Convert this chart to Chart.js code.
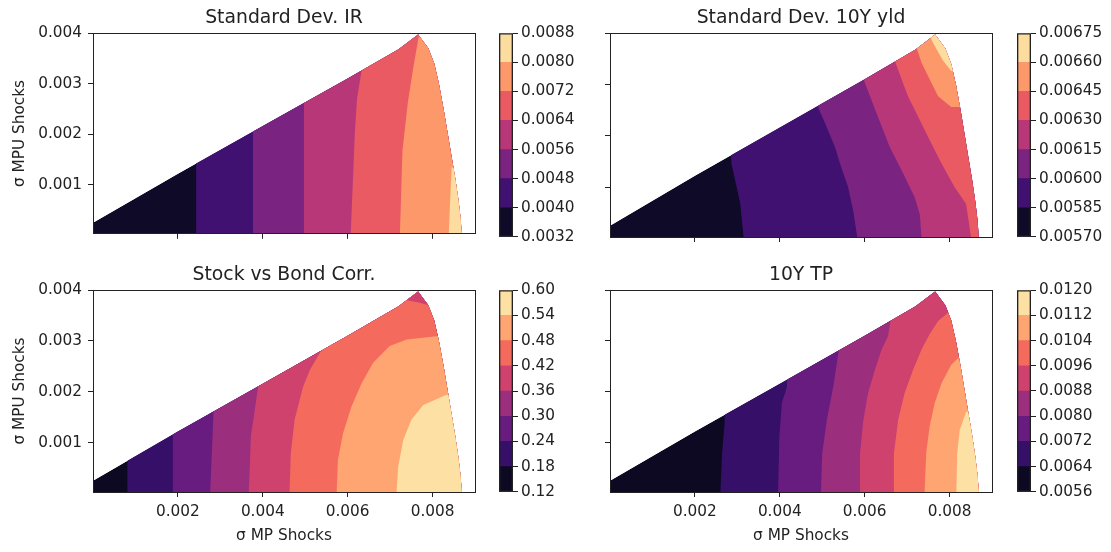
<!DOCTYPE html>
<html>
<head>
<meta charset="utf-8">
<script src="https://cdn.jsdelivr.net/npm/chart.js@4.4.1/dist/chart.umd.min.js"></script>
<style>
  body { margin: 0; background: #fff; }
  #page { position: relative; width: 1111px; height: 552px; overflow: hidden; background: #fff; }
  #page canvas { position: absolute; }
</style>
</head>
<body>
<div id="page"></div>
<script>
// axis ticks shared by the four panels
const xTicks = [0.002, 0.004, 0.006, 0.008];
const xTickLabels = ['0.002', '0.004', '0.006', '0.008'];
const yTicks = [0.001, 0.002, 0.003, 0.004];
const yTickLabels = ['0.001', '0.002', '0.003', '0.004'];

// outline of the region that has values (σ MP, σ MPU)
const regionEdge = [
  [0, 0], [0, 0.00025], [0.002, 0.00122], [0.004, 0.00216], [0.006, 0.00310],
  [0.0072, 0.00368], [0.00766, 0.00397], [0.0079, 0.0037], [0.00804, 0.00340],
  [0.00815, 0.00300], [0.00826, 0.00250], [0.00836, 0.00200], [0.00846, 0.00150],
  [0.00854, 0.00110], [0.00861, 0.00070], [0.00866, 0.00035], [0.00869, 0]
];

// Standard Dev. IR
const irLevels = [0.0032, 0.0040, 0.0048, 0.0056, 0.0064, 0.0072, 0.0080, 0.0088];
const irLevelLabels = ['0.0032', '0.0040', '0.0048', '0.0056', '0.0064', '0.0072', '0.0080', '0.0088'];
const irContours = [
  [[0.00243, 0], [0.00243, 0.0045]],
  [[0.00377, 0], [0.00377, 0.0045]],
  [[0.00497, 0], [0.00497, 0.0045]],
  [[0.00607, 0], [0.00617, 0.00205], [0.00622, 0.0027], [0.00633, 0.00327], [0.0064, 0.0045]],
  [[0.00723, 0], [0.00729, 0.00167], [0.00742, 0.00264], [0.00754, 0.00329], [0.00768, 0.00396], [0.0078, 0.0045]],
  [[0.00838, 0], [0.00842, 0.0008], [0.00845, 0.00134], [0.0095, 0.00134]]
];

// Standard Dev. 10Y yld
const yldLevels = [0.00570, 0.00585, 0.00600, 0.00615, 0.00630, 0.00645, 0.00660, 0.00675];
const yldLevelLabels = ['0.00570', '0.00585', '0.00600', '0.00615', '0.00630', '0.00645', '0.00660', '0.00675'];
const yldContours = [
  [[0.00315, 0], [0.00307, 0.00067], [0.00295, 0.00113], [0.00286, 0.00146], [0.0027, 0.0045]],
  [[0.00583, 0], [0.00573, 0.00054], [0.00561, 0.001], [0.00542, 0.00146], [0.0053, 0.00178], [0.00507, 0.00224], [0.00491, 0.00254], [0.0047, 0.0045]],
  [[0.00734, 0], [0.0073, 0.00047], [0.00718, 0.0008], [0.00691, 0.00126], [0.00659, 0.00178], [0.00628, 0.00244], [0.00599, 0.00306], [0.0058, 0.0045]],
  [[0.00851, 0], [0.00839, 0.00067], [0.00812, 0.001], [0.00781, 0.00146], [0.00753, 0.00192], [0.00726, 0.00237], [0.00702, 0.00277], [0.00687, 0.0031], [0.00671, 0.00346], [0.0065, 0.0045]],
  [[0.0082, 0.00256], [0.00804, 0.00256], [0.00773, 0.00277], [0.00753, 0.0031], [0.00734, 0.00342], [0.00722, 0.00372], [0.0071, 0.0045]],
  [[0.00804, 0.00326], [0.00785, 0.00346], [0.00769, 0.00369], [0.00757, 0.00388], [0.0075, 0.0045]]
];

// Stock vs Bond Corr.
const corrLevels = [0.12, 0.18, 0.24, 0.30, 0.36, 0.42, 0.48, 0.54, 0.60];
const corrLevelLabels = ['0.12', '0.18', '0.24', '0.30', '0.36', '0.42', '0.48', '0.54', '0.60'];
const corrContours = [
  [[0.00081, 0], [0.00081, 0.0045]],
  [[0.00188, 0], [0.00188, 0.0045]],
  [[0.00276, 0], [0.00284, 0.00161], [0.0029, 0.0045]],
  [[0.00367, 0], [0.00372, 0.00112], [0.00389, 0.0021], [0.004, 0.0045]],
  [[0.00463, 0], [0.00466, 0.00079], [0.00475, 0.00145], [0.00495, 0.0021], [0.00511, 0.00243], [0.00534, 0.00276], [0.00552, 0.00296], [0.0057, 0.0045]],
  [[0.00574, 0], [0.00577, 0.00066], [0.00589, 0.00118], [0.00609, 0.00171], [0.00633, 0.00217], [0.0066, 0.00257], [0.00699, 0.0029], [0.00739, 0.00303], [0.00809, 0.00309], [0.0095, 0.00309]],
  [[0.00715, 0], [0.00719, 0.00053], [0.00731, 0.00105], [0.0075, 0.00145], [0.00778, 0.00174], [0.00833, 0.00194], [0.0095, 0.00194]]
];
// the tip falls back into the 0.36-0.42 band
const corrTip = [[0.0074, 0.0045], [0.0074, 0.0038], [0.0077, 0.00375], [0.0079, 0.0037], [0.0095, 0.0037]];

// 10Y TP
const tpLevels = [0.0056, 0.0064, 0.0072, 0.0080, 0.0088, 0.0096, 0.0104, 0.0112, 0.0120];
const tpLevelLabels = ['0.0056', '0.0064', '0.0072', '0.0080', '0.0088', '0.0096', '0.0104', '0.0112', '0.0120'];
const tpContours = [
  [[0.0026, 0], [0.00264, 0.00079], [0.0027, 0.00138], [0.0027, 0.0045]],
  [[0.00396, 0], [0.00399, 0.00112], [0.00405, 0.00178], [0.00417, 0.0021], [0.0042, 0.0045]],
  [[0.00497, 0], [0.005, 0.00079], [0.00511, 0.00145], [0.00526, 0.0021], [0.00538, 0.00276], [0.0055, 0.0045]],
  [[0.00587, 0], [0.00589, 0.00079], [0.00597, 0.00145], [0.00608, 0.00197], [0.00624, 0.00243], [0.0064, 0.00283], [0.00655, 0.00309], [0.00663, 0.00349], [0.0067, 0.0045]],
  [[0.00667, 0], [0.00669, 0.00079], [0.00679, 0.00145], [0.00694, 0.00197], [0.00714, 0.00243], [0.00734, 0.00283], [0.00753, 0.00313], [0.00773, 0.00339], [0.00796, 0.00355], [0.0095, 0.00355]],
  [[0.00741, 0], [0.00745, 0.00079], [0.00753, 0.00132], [0.00765, 0.00178], [0.00781, 0.00217], [0.00804, 0.00253], [0.0082, 0.00266], [0.0095, 0.00266]],
  [[0.00816, 0], [0.00818, 0.00079], [0.00824, 0.00125], [0.00839, 0.00161], [0.0095, 0.00161]]
];

// magma colormap stops (0, 0.1, ... 1)
const magmaStops = ['#000004', '#140e36', '#3b0f70', '#641a80', '#8c2981', '#b73779',
                    '#de4968', '#f7705c', '#fe9f6d', '#fecf92', '#fcfdbf'];
const ink = '#222';
const farX = 0.0095;

function hexRgb(h) { return [1, 3, 5].map(i => parseInt(h.slice(i, i + 2), 16)); }
function magma(t) {
  const f = t * 10, i = Math.min(9, Math.floor(f)), u = f - i;
  const a = hexRgb(magmaStops[i]), b = hexRgb(magmaStops[i + 1]);
  return 'rgb(' + a.map((v, k) => Math.round(v + (b[k] - v) * u)).join(',') + ')';
}
function bandColors(n) { return Array.from({length: n}, (_, i) => magma((i + 0.5) / n)); }

// a contour line closed off to the right, so it covers the higher band
function bandShape(line) {
  const first = line[0], last = line[line.length - 1];
  return [...line, [farX, last[1]], [farX, first[1]]];
}
// order: higher numbers are painted first, so later layers get lower numbers
function shapeSet(pts, color, layer) {
  return {
    data: pts.map(([x, y]) => ({x, y})),
    showLine: true, fill: 'shape', backgroundColor: color,
    borderWidth: 0, pointRadius: 0, tension: 0, order: -layer
  };
}

const regionClip = {
  id: 'regionClip',
  beforeDatasetsDraw(chart) {
    const {ctx, scales: {x, y}} = chart;
    ctx.save();
    ctx.beginPath();
    regionEdge.forEach(([a, b], i) => {
      const px = x.getPixelForValue(a), py = y.getPixelForValue(b);
      if (i) ctx.lineTo(px, py); else ctx.moveTo(px, py);
    });
    ctx.closePath();
    ctx.clip();
  },
  afterDatasetsDraw(chart) { chart.ctx.restore(); }
};

Chart.defaults.font.family = "'DejaVu Sans', sans-serif";
Chart.defaults.font.size = 15.3;
Chart.defaults.color = ink;

function addCanvas(left, top, width, height) {
  const c = document.createElement('canvas');
  c.width = width; c.height = height;
  c.style.left = left + 'px'; c.style.top = top + 'px';
  c.style.width = width + 'px'; c.style.height = height + 'px';
  document.getElementById('page').appendChild(c);
  return c;
}

// side margins are equal so the title centres over the plot
const padL = 93, padT = 33, plotW = 382, padR = 93;

function drawPanel(p) {
  const canvas = addCanvas(p.left - padL, p.top - padT, padL + plotW + padR, padT + p.height + p.bottom);
  const colors = bandColors(p.levels.length - 1);
  const datasets = [shapeSet(regionEdge, colors[0], 0)];
  p.contours.forEach((line, i) => datasets.push(shapeSet(bandShape(line), colors[i + 1], datasets.length)));
  (p.patches || []).forEach(pt => datasets.push(shapeSet(bandShape(pt.line), colors[pt.band], datasets.length)));
  const tickGrid = {drawOnChartArea: false, tickLength: 5, color: ink, lineWidth: 1};
  new Chart(canvas, {
    type: 'scatter',
    data: {datasets},
    plugins: [regionClip],
    options: {
      responsive: false, animation: false, events: [],
      layout: {padding: 0},
      plugins: {
        legend: {display: false}, tooltip: {enabled: false},
        title: {display: true, text: p.title, color: ink, font: {size: 18.8, weight: 'normal'},
                padding: {top: 6.5, bottom: 4}}
      },
      scales: {
        x: {
          type: 'linear', position: 'bottom', min: 0, max: 0.009,
          afterBuildTicks: s => { s.ticks = xTicks.map(v => ({value: v})); },
          afterFit: s => { s.height = p.bottom; },
          ticks: {display: p.xLabels, padding: 6, callback: (v, i) => xTickLabels[i]},
          grid: tickGrid,
          border: {color: ink, width: 1, z: 1},
          title: {display: p.xLabels, text: 'σ MP Shocks', padding: {top: 0, bottom: 6.7}}
        },
        xTop: {
          type: 'linear', position: 'top', axis: 'x',
          afterFit: s => { s.height = 0; },
          ticks: {display: false}, grid: {display: false, drawTicks: false},
          border: {color: ink, width: 1, z: 1}
        },
        y: {
          type: 'linear', position: 'left', min: 0.00003, max: 0.004,
          afterBuildTicks: s => { s.ticks = yTicks.map(v => ({value: v})); },
          afterFit: s => { s.width = padL; },
          ticks: {display: p.yLabels, padding: 6, callback: (v, i) => yTickLabels[i]},
          grid: tickGrid,
          border: {color: ink, width: 1, z: 1},
          title: {display: p.yLabels, text: 'σ MPU Shocks', padding: {top: 10.4, bottom: 0}}
        },
        yRight: {
          type: 'linear', position: 'right', axis: 'y',
          afterFit: s => { s.width = padR; },
          ticks: {display: false}, grid: {display: false, drawTicks: false},
          border: {color: ink, width: 1, z: 1}
        }
      }
    }
  });

  // colour bar
  const cbPad = 12, cbW = 14, cbAxis = 72;
  const cb = addCanvas(p.cbLeft, p.top - cbPad, cbW + cbAxis, p.height + 2 * cbPad);
  const lv = p.levels, n = lv.length - 1;
  const bars = colors.map((c, i) => ({
    data: [[lv[i], lv[i + 1]]], backgroundColor: c, borderWidth: 0, order: 1,
    grouped: false, barPercentage: 1, categoryPercentage: 1
  }));
  bars.push({
    data: [[lv[0], lv[n]]], backgroundColor: 'rgba(0,0,0,0)', borderColor: ink, borderWidth: 1, order: 0,
    borderSkipped: false, grouped: false, barPercentage: 1, categoryPercentage: 1
  });
  new Chart(cb, {
    type: 'bar',
    data: {labels: [''], datasets: bars},
    options: {
      responsive: false, animation: false, events: [],
      layout: {padding: {top: cbPad, bottom: cbPad, left: 0, right: 0}},
      plugins: {legend: {display: false}, tooltip: {enabled: false}},
      scales: {
        x: {display: false},
        y: {
          position: 'right', min: lv[0], max: lv[n],
          afterBuildTicks: s => { s.ticks = lv.map(v => ({value: v})); },
          afterFit: s => { s.width = cbAxis; },
          ticks: {padding: 3, callback: (v, i) => p.levelLabels[i]},
          grid: {drawOnChartArea: false, tickLength: 5, color: ink, lineWidth: 1},
          border: {display: false}
        }
      }
    }
  });
}

const panels = [
  {title: 'Standard Dev. IR', levels: irLevels, levelLabels: irLevelLabels, contours: irContours,
   left: 93, top: 33, height: 204, bottom: 12, xLabels: false, yLabels: true, cbLeft: 499},
  {title: 'Standard Dev. 10Y yld', levels: yldLevels, levelLabels: yldLevelLabels, contours: yldContours,
   left: 610, top: 33, height: 204, bottom: 12, xLabels: false, yLabels: false, cbLeft: 1017},
  {title: 'Stock vs Bond Corr.', levels: corrLevels, levelLabels: corrLevelLabels, contours: corrContours,
   patches: [{band: 4, line: corrTip}],
   left: 93, top: 290, height: 202, bottom: 60, xLabels: true, yLabels: true, cbLeft: 499},
  {title: '10Y TP', levels: tpLevels, levelLabels: tpLevelLabels, contours: tpContours,
   left: 610, top: 290, height: 202, bottom: 60, xLabels: true, yLabels: false, cbLeft: 1017}
];
panels.forEach(drawPanel);
</script>
</body>
</html>
